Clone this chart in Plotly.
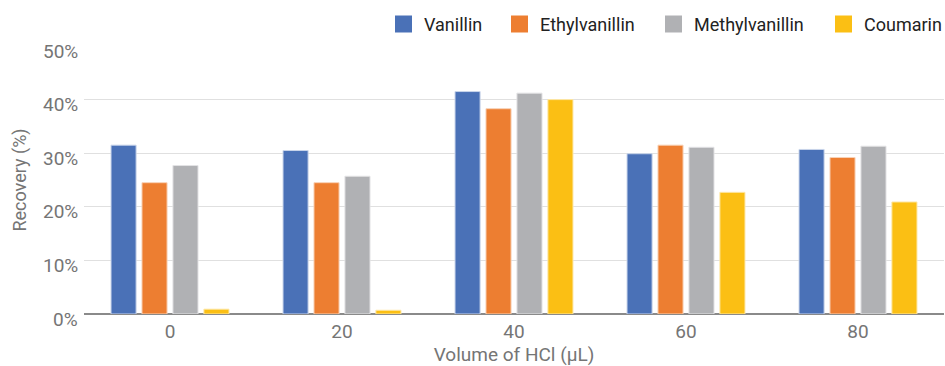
import plotly.graph_objects as go

# HCl volume levels (µL) and recovery (%) per compound
hcl_volume = ["0", "20", "40", "60", "80"]
vanillin = [31.5, 30.5, 41.5, 29.9, 30.7]
ethylvanillin = [24.5, 24.5, 38.3, 31.5, 29.2]
methylvanillin = [27.7, 25.7, 41.2, 31.1, 31.3]
coumarin = [0.9, 0.7, 40.0, 22.7, 20.9]

# Value axis ticks
y_ticks = [0, 10, 20, 30, 40, 50]
y_tick_labels = ["0%", "10%", "20%", "30%", "40%", "50%"]

series = [
    ("Vanillin", vanillin, "#4a71b7", "#c9d5ea"),
    ("Ethylvanillin", ethylvanillin, "#ed7e31", "#f8d2b7"),
    ("Methylvanillin", methylvanillin, "#b0b1b4", "#e2e2e4"),
    ("Coumarin", coumarin, "#fbbf14", "#fde7a6"),
]

W, H = 945, 366
ML, MR, MT, MB = 84, 1, 46, 52
plot_w = W - ML - MR
plot_h = H - MT - MB
GREY = "#757575"
FONT = "Roboto, sans-serif"

fig = go.Figure()
for name, vals, color, edge in series:
    fig.add_trace(go.Bar(
        name=name, x=hcl_volume, y=vals, showlegend=False,
        marker=dict(color=color, line=dict(color=edge, width=1)),
    ))


def px_x(px):
    return (px - ML) / plot_w


def px_y(py):
    return (H - MB - py) / plot_h


# Legend row along the top: square swatch followed by the series name
legend_left = [395, 511, 665, 835]
swatch = 17
legend_cy = 24
for (name, _, color, _), left in zip(series, legend_left):
    fig.add_shape(
        type="rect", xref="paper", yref="paper",
        x0=px_x(left), x1=px_x(left + swatch),
        y0=px_y(legend_cy + swatch / 2), y1=px_y(legend_cy - swatch / 2),
        fillcolor=color, line=dict(width=0),
    )
    fig.add_annotation(
        text=name, xref="paper", yref="paper",
        x=px_x(left + 27), y=px_y(legend_cy),
        xanchor="left", yanchor="middle", showarrow=False,
        font=dict(size=18, color="#222222"),
    )

# Percent labels sit slightly below their gridlines
for v, lab in zip(y_ticks, y_tick_labels):
    fig.add_annotation(
        text=lab, xref="paper", yref="y", x=0, y=v,
        xanchor="right", yanchor="middle", xshift=-4, yshift=-5,
        showarrow=False, font=dict(size=19, color=GREY),
    )

fig.update_layout(
    width=W, height=H,
    margin=dict(l=ML, r=MR, t=MT, b=MB, autoexpand=False),
    paper_bgcolor="white", plot_bgcolor="white",
    barmode="group", bargap=0.28, bargroupgap=0.19,
    font=dict(family=FONT, size=18, color=GREY),
    xaxis=dict(
        title=dict(text="Volume of HCl (µL)", font=dict(size=19, color=GREY), standoff=7),
        showgrid=False, ticks="", tickfont=dict(size=19, color=GREY),
        ticklabelstandoff=4, showline=False,
    ),
    yaxis=dict(
        title=dict(text="Recovery (%)", font=dict(size=18, color=GREY), standoff=51),
        range=[0, 50], tickvals=y_ticks, showticklabels=False,
        gridcolor="#e0e0e0", gridwidth=1,
        zeroline=True, zerolinecolor="#8a8a8a", zerolinewidth=1.5,
    ),
)

fig.write_html("out.html")
